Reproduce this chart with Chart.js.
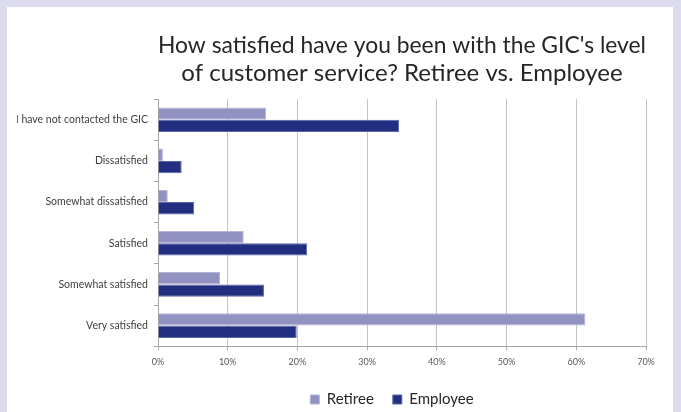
<!DOCTYPE html>
<html>
<head>
<meta charset="utf-8">
<script src="https://cdn.jsdelivr.net/npm/chart.js@4"></script>
<style>
  html, body { margin:0; padding:0; background:#dcdcee; }
  #panel { position:absolute; left:7px; top:7px; width:666px; height:405px; background:#fff; }
  canvas { display:block; }
</style>
</head>
<body>
<div id="panel"><canvas id="chart" width="666" height="405"></canvas></div>
<script>
const categories = ['I have not contacted the GIC','Dissatisfied','Somewhat dissatisfied','Satisfied','Somewhat satisfied','Very satisfied'];
const retiree = [15.5, 0.7, 1.4, 12.3, 8.9, 61.3];
const employee = [34.6, 3.4, 5.2, 21.4, 15.2, 19.9];
const titleLines = ["How satisfied have you been with the GIC's level", 'of customer service? Retiree vs. Employee'];

const FONT = 'Lato, "Liberation Sans", sans-serif';

// the legend sits a little left of the plot centre in the original
const nudgeLegend = {
  id: 'nudgeLegend',
  afterLayout(chart) {
    chart.legend.left -= 10;
    chart.legend.right -= 10;
  }
};

new Chart(document.getElementById('chart'), {
  type: 'bar',
  data: {
    labels: categories,
    datasets: [
      {label:'Retiree', data:retiree, backgroundColor:'#9292c2', borderColor:'#b4b4d8', borderWidth:1, categoryPercentage:0.6, barPercentage:1},
      {label:'Employee', data:employee, backgroundColor:'#222f80', borderColor:'#5c66aa', borderWidth:1, categoryPercentage:0.6, barPercentage:1}
    ]
  },
  options: {
    indexAxis: 'y',
    responsive: false,
    animation: false,
    layout: {padding:{left:10, right:27, top:0, bottom:-5}},
    plugins: {
      title: {display:true, text:titleLines, fullSize:false, color:'#262626',
        font:{family:FONT, size:24, weight:'normal', lineHeight:1.17}, padding:{top:24, bottom:12}},
      legend: {position:'bottom', fullSize:false,
        labels:{boxWidth:9, boxHeight:9, color:'#262626', padding:19, font:{family:FONT, size:15}}},
      tooltip: {enabled:false}
    },
    scales: {
      x: {min:0, max:70,
        ticks:{stepSize:10, color:'#595959', font:{family:FONT, size:9}, callback:v => v + '%', padding:6},
        grid:{color:'#c4c4c4', tickColor:'#b0b0b0', tickLength:4, lineWidth:1},
        border:{color:'#a6a6a6'}},
      y: {
        ticks:{color:'#404040', font:{family:FONT, size:10.5}, padding:6},
        grid:{drawOnChartArea:false, offset:true, tickLength:4, tickColor:'#a6a6a6'},
        border:{color:'#a6a6a6'},
        afterFit: s => { s.width = 151 - 10; }
      }
    }
  },
  plugins: [nudgeLegend]
});
</script>
</body>
</html>
